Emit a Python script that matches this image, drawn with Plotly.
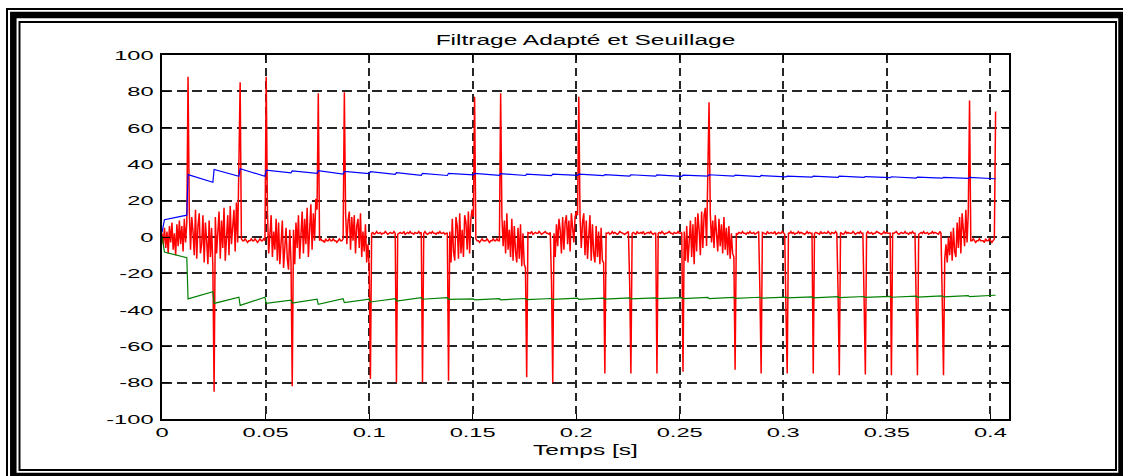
import plotly.graph_objects as go

# ---------------------------------------------------------------------------
# Data
# ---------------------------------------------------------------------------
dt = 0.000599          # sampling step of the filtered signal [s]
beat = 21              # samples between two detected events

# Matched-filter output, one row per event period (event sample first)
filtered = [
    2, -4, 5, -6, 3, -9, 6, -3, 8, -7, 2, -10, 7, -5, 9, -4, 6, -8, 10, -3, 8,
    88, 14, -7, 11, 3, -10, 15, -12, 6, 13, -9, -4, 12, -14, 8, -2, -15, 9, -11, 5, -16,
    -85, 11, -9, 6, 14, -12, 9, -6, 16, -13, 3, 12, -10, 17, -4, 8, 15, -8, 19, -3, 48,
    85, -1, -2, -2, -1, -2, -3, -2, -2, -1, -2, -2, -1, -2, -3, -2, -1, -2, -2, -1, -2,
    88, 14, -9, 6, 12, -11, 3, -7, 10, -13, 8, -15, 2, 9, -17, -6, 5, -12, -18, 4, -14,
    -82, 4, -15, 8, -6, 12, -12, 2, 14, -9, 10, -4, 16, -11, 7, 18, -7, 13, -2, 21, 15,
    79, -2, -1, -2, -2, -3, -1, -2, -2, -1, -2, -2, -1, -2, -2, -3, -2, -1, -2, -2, -1,
    79.5, 13, -4, 9, 14, -7, 11, -2, 12, -9, 6, 10, -6, 13, -11, 3, -8, 7, -14, -4, -16,
    -78, 2, 2.5, 1.5, 2, 3, 2, 2, 2.5, 1.5, 2, 2, 3, 2, 1.5, 2, 2.5, 2, 2, 3, 2,
    -80, 1.5, 2, 2.5, 2, 2, 3, 1.5, 2, 2.5, 2, 3, 2, 2, 1.5, 2.5, 2, 2, 3, 2, 2.5,
    -80, 2, 3, 2, 1.5, 2, 2.5, 2, 3, 2, 2, 1.5, 2.5, 2, 3, 2, 2, 2.5, 1.5, 2, 2,
    -79, 3, -14, 10, -8, -13, 11, 6, -12, 13, -9, 4, -11, 12, 8, -7, 14, -9, 10, 15, 11,
    77, -1, -2, -2, -3, -2, -1, -2, -2, -2, -1, -2, -3, -2, -2, -1, -2, -2, -1, -2, -2,
    79, 12, -5, 9, -9, 13, -7, 4, -11, 10, -13, 6, -8, -14, 5, -12, 7, -16, 2, -15, -17,
    -77, 2.5, 2, 2, 3, 1.5, 2, 2.5, 2, 2, 3, 2, 1.5, 2, 2.5, 3, 2, 2, 1.5, 2.5, -25,
    -80, 2, -11, 7, -5, 10, 4, -9, 11, -7, 8, 12, -4, 9, -8, 13, 6, -3, 11, 14, 12,
    77, 11, -6, 8, 13, -10, 9, -12, 5, 12, -13, 7, -9, -14, 6, -11, 3, -15, 5, -13, -14,
    -75, 2, 2, 2.5, 1.5, 2, 3, 2, 2.5, 2, 1.5, 2, 3, 2.5, 2, 2, 1.5, 2, 2.5, 3, -25,
    -75, 2, 2.5, 2, 1.5, 3, 2, 2, 2.5, 2, 3, 1.5, 2, 2, 2.5, 2, 3, 2, 1.5, 2, 2,
    -75, 2, 2.5, 2, 3, 2, 1.5, 2, 2, 2.5, 3, 2, 2, 1.5, 2.5, 2, 2, 3, 2, 2, 2.5,
    -74, 3, -13, 6, -14, 2, 9, -11, 7, -15, 11, -8, 13, 4, -10, 14, -6, 12, 16, -5, 35,
    74, 13, -3, 9, -6, 12, 4, -8, 10, -5, 7, -9, 11, -7, 5, -10, 6, -12, 2, -9, -11,
    -73, 2, 1.5, 2.5, 2, 2, 3, 2, 2, 1.5, 2.5, 2, 3, 2, 2, 2.5, 1.5, 2, 2, 3, -30,
    -75, 2.5, 2, 2, 1.5, 3, 2, 2, 2.5, 2, 2, 3, 1.5, 2, 2.5, 2, 2, 3, 2, 1.5, -40,
    -75, 2, 2, 3, 2, 2.5, 1.5, 2, 2, 3, 2, 2.5, 2, 2, 1.5, 2, 3, 2, 2.5, 2, 2,
    -75, 2, 2.5, 2, 2, 1.5, 3, 2, 2, 2.5, 2, 2, 3, 2, 1.5, 2.5, 2, 2, 3, 2, -30,
    -76, 2.5, 2, 1.5, 2, 3, 2, 2.5, 2, 2, 2, 3, 2, 1.5, 2, 2.5, 2, 3, 2, 2, -35,
    -75.5, 2, 3, 2, 2, 2.5, 1.5, 2, 2, 3, 2.5, 2, 2, 1.5, 2, 3, 2, 2.5, 2, 2, 2,
    -76, 2, 2, 2.5, 3, 2, 1.5, 2, 2.5, 2, 2, 3, 2, 2, 1.5, 2.5, 2, 3, 2, 2, -30,
    -76, 1.5, 2, 2.5, 2, 3, 2, 2, 2.5, 1.5, 2, 2, 3, 2, 2.5, 2, 2, 1.5, 3, 2, -35,
    -76, -12, -4, -14, 0, -10, 3, -13, 5, -8, -11, 8, -6, 11, -9, 13, 4, -5, 15, -3, 14,
    75, -2, -2, -1, -2, -3, -2, -2, -1, -2, -2, -2, -3, -1, -2, -2, -1, -2, -3, -2, -1,
    69,
]

# Adaptive thresholds: initial samples, then value just before / just after each event
thr_start_idx = [0, 2]
upper_start = [2.5, 9.5]
lower_start = [0.5, -8.3]

upper_before = [12.0, 30.1, 33.4, 33.4, 35.2, 35.0, 34.5, 34.8, 34.4, 33.9, 33.8, 34.2,
                33.9, 33.8, 33.7, 33.9, 33.7, 33.5, 33.4, 33.3, 33.5, 33.4, 33.2, 33.0,
                32.9, 32.8, 32.8, 32.6, 32.4, 32.3, 32.2, 32.0]
upper_after = [34.3, 37.1, 37.5, 36.7, 36.3, 36.4, 36.0, 35.9, 35.4, 35.0, 35.0, 35.0,
               34.8, 34.5, 34.5, 34.6, 34.3, 34.2, 34.1, 34.0, 34.2, 34.0, 33.8, 33.5,
               33.5, 33.4, 33.2, 33.1, 32.9, 32.8, 32.8, 32.0]
lower_before = [-11.4, -30.1, -33.1, -33.1, -34.7, -34.2, -33.9, -34.2, -33.9, -33.3, -33.3, -34.0,
                -33.9, -33.8, -33.8, -33.6, -33.6, -33.5, -33.4, -33.3, -33.2, -33.2, -33.1, -33.0,
                -32.9, -32.8, -32.7, -32.6, -32.5, -32.4, -32.2, -32.0]
lower_after = [-34.0, -36.5, -37.6, -36.5, -36.3, -37.0, -36.1, -35.7, -35.2, -34.2, -34.3, -34.6,
               -34.5, -34.4, -34.3, -34.3, -34.1, -34.0, -33.9, -33.9, -33.8, -33.7, -33.6, -33.5,
               -33.4, -33.3, -33.2, -33.1, -33.0, -32.9, -32.8, -32.0]

x_ticks = [0, 0.05, 0.1, 0.15, 0.2, 0.25, 0.3, 0.35, 0.4]
x_tick_labels = ["0", "0.05", "0.1", "0.15", "0.2", "0.25", "0.3", "0.35", "0.4"]
y_ticks = [-100, -80, -60, -40, -20, 0, 20, 40, 60, 80, 100]
y_tick_labels = ["-100", "-80", "-60", "-40", "-20", "0", "20", "40", "60", "80", "100"]


def threshold_trace(start_vals, before, after):
    idx = list(thr_start_idx)
    vals = list(start_vals)
    for k, (b, a) in enumerate(zip(before, after), start=1):
        idx += [beat * k - 1, beat * k]
        vals += [b, a]
    return [i * dt for i in idx], vals


t = [i * dt for i in range(len(filtered))]
t_up, v_up = threshold_trace(upper_start, upper_before, upper_after)
t_lo, v_lo = threshold_trace(lower_start, lower_before, lower_after)

# ---------------------------------------------------------------------------
# Figure
# ---------------------------------------------------------------------------
W, H = 1123, 476
L, R, T, B = 162, 114, 55, 57
PW, PH = W - L - R, H - T - B

fig = go.Figure()
fig.add_trace(go.Scatter(x=t, y=filtered, mode="lines",
                         line=dict(color="rgb(255,0,0)", width=1.5)))
fig.add_trace(go.Scatter(x=t_up, y=v_up, mode="lines",
                         line=dict(color="rgb(0,0,255)", width=1.2)))
fig.add_trace(go.Scatter(x=t_lo, y=v_lo, mode="lines",
                         line=dict(color="rgb(0,128,0)", width=1.2)))


def px(x):
    return (x - L) / PW


def py(y):
    return (H - B - y) / PH


# decorative double frame around the figure
frame = [(7, 9, 1128, 481, 2), (13.3, 15, 1121.5, 476, 6.5), (19.5, 22, 1116, 470, 2)]
shapes = [dict(type="rect", xref="paper", yref="paper",
               x0=px(a), y0=py(b), x1=px(c), y1=py(d),
               line=dict(color="black", width=w), fillcolor="rgba(0,0,0,0)")
          for a, b, c, d, w in frame]

axis_common = dict(showline=True, linecolor="black", linewidth=1.5, mirror="ticks",
                   ticks="inside", tickcolor="black", tickwidth=1,
                   showgrid=True, gridcolor="#262626", gridwidth=1.6,
                   zeroline=False, tickfont=dict(family="Liberation Sans, Arial", size=13.5, color="black"))

fig.update_layout(
    width=W, height=H,
    margin=dict(l=L, r=R, t=T, b=B, pad=0),
    paper_bgcolor="white", plot_bgcolor="white",
    showlegend=False,
    title=dict(text="Filtrage Adapté et Seuillage", x=0.5, xref="paper", xanchor="center",
               y=1 - 40 / H, yanchor="middle",
               font=dict(family="Liberation Sans, Arial", size=14, color="black")),
    xaxis=dict(range=[0, 0.409], tickvals=x_ticks, ticktext=x_tick_labels,
               ticklen=5, griddash="8px,5px",
               title=dict(text="Temps [s]", standoff=6,
                          font=dict(family="Liberation Sans, Arial", size=14, color="black")),
               **axis_common),
    yaxis=dict(range=[-100, 100], tickvals=y_ticks, ticktext=y_tick_labels,
               ticklen=8, griddash="10px,5px", ticklabelstandoff=4,
               **axis_common),
    shapes=shapes,
)

# widen the glyphs horizontally, as in the exported figure
widen_js = """
var gd = document.getElementById('{plot_id}');
function widenText(){
  var nodes = gd.querySelectorAll('.xtick text, .ytick text, .gtitle, .xtitle');
  nodes.forEach(function(el){
    if(!el.dataset.w0){ el.dataset.w0 = el.getComputedTextLength(); }
    el.setAttribute('textLength', (parseFloat(el.dataset.w0) * 1.75).toFixed(1));
    el.setAttribute('lengthAdjust', 'spacingAndGlyphs');
  });
}
widenText();
if (gd.on) { gd.on('plotly_afterplot', widenText); }
"""

fig.write_html("out.html", config={"displayModeBar": False}, post_script=widen_js)
